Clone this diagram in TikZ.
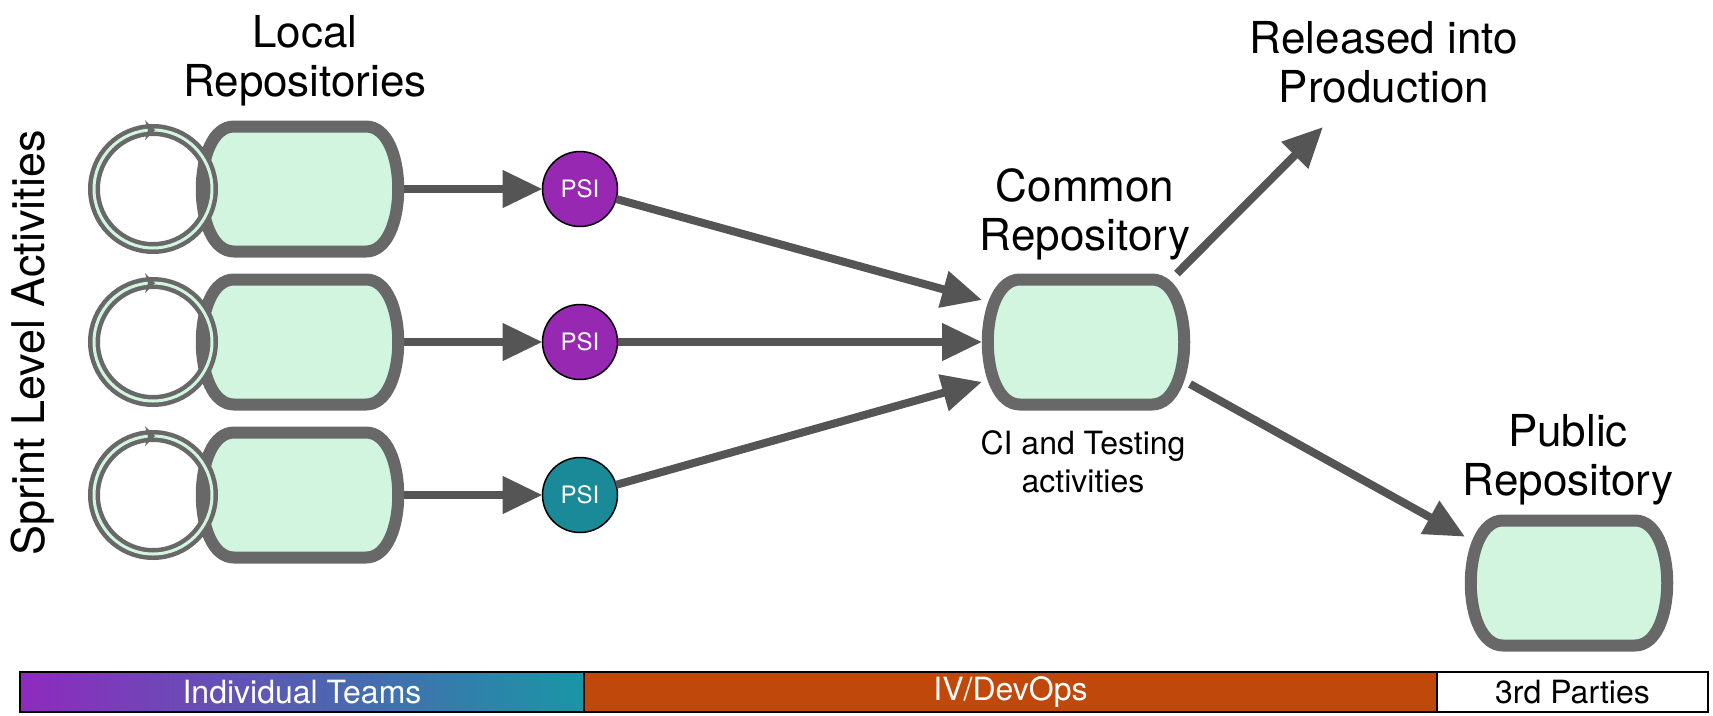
\documentclass[tikz,border=0pt]{standalone}
\usepackage{fontspec}
\setmainfont{TeX Gyre Heros}
\usetikzlibrary{arrows.meta,calc}
\definecolor{boxfill}{RGB}{209,245,222}
\definecolor{boxline}{RGB}{104,104,104}
\definecolor{arrowc}{RGB}{85,85,85}
\definecolor{psipurple}{RGB}{150,40,178}
\definecolor{psiteal}{RGB}{26,138,152}
\definecolor{barpurple}{RGB}{142,42,190}
\definecolor{barteal}{RGB}{25,150,165}
\definecolor{barorange}{RGB}{192,72,10}
\newcommand\reposhape[1]{%
  \filldraw[fill=boxfill,draw=boxline,line width=12pt]
    ($(#1.north west)+(38,6)$) -- ($(#1.north east)+(-38,6)$)
    .. controls ($(#1.north east)+(5,6)$) and ($(#1.south east)+(5,-6)$) .. ($(#1.south east)+(-38,-6)$)
    -- ($(#1.south west)+(38,-6)$)
    .. controls ($(#1.south west)+(-5,-6)$) and ($(#1.north west)+(-5,6)$) .. cycle;}
\newcommand\looptick[1]{%
  \fill[boxline] ($(#1.north)+(-8,-10)$) -- ($(#1.north)+(2,0)$) -- ($(#1.north)+(-8,10)$) -- ($(#1.north)+(-5,0)$) -- cycle;}
\begin{document}
\begin{tikzpicture}[x=1pt,y=-1pt,
  repo/.style={minimum width=208pt,minimum height=137pt,inner sep=0pt,outer sep=0pt},
  loopc/.style={circle,draw=boxline,line width=4.5pt,double=boxfill,double distance=3pt,minimum size=118pt,inner sep=0pt,outer sep=0pt},
  psi/.style={circle,draw=black,line width=1.5pt,minimum size=75pt,inner sep=0pt,outer sep=0pt,text=white,font=\fontsize{24}{24}\selectfont},
  arr/.style={draw=arrowc,line width=8pt,-{Triangle[length=40pt,width=36pt]}},
  title/.style={align=center,font=\fontsize{44}{49}\selectfont,inner sep=0pt,anchor=north},
  small/.style={align=center,font=\fontsize{32}{38}\selectfont,inner sep=0pt,anchor=north},
  bar/.style={draw=black,line width=2pt,minimum height=40pt,inner sep=0pt,font=\fontsize{32}{32}\selectfont}
]
\useasboundingbox (0,0) rectangle (1713,715);

% titles
\node[title] (tlocal) at (305,15) {Local\\Repositories};
\node[title] (tcommon) at (1085,168) {Common\\Repository};
\node[title] (trel) at (1384,21) {Released into\\Production};
\node[title] (tpublic) at (1568,414) {Public\\Repository};
\node[small] (tci) at (1083,430) {CI and Testing\\activities};
\node[rotate=90,font=\fontsize{45}{45}\selectfont,inner sep=0pt] (sprint) at (33,343) {Sprint Level Activities};

% repository nodes (shapes drawn later)
\node[repo] (r1) at (300,189) {};
\node[repo] (r2) at (300,342) {};
\node[repo] (r3) at (300,495) {};
\node[repo] (common) at (1086,342) {};
\node[repo] (public) at (1569,583) {};

% PSI nodes
\node[psi,fill=psipurple] (p1) at (580,189) {PSI};
\node[psi,fill=psipurple] (p2) at (580,342) {PSI};
\node[psi,fill=psiteal] (p3) at (580,495) {PSI};

\coordinate (relend) at (1323,127);

% connectors
\draw[arr] (r1.east) -- (p1.west);
\draw[arr] (r2.east) -- (p2.west);
\draw[arr] (r3.east) -- (p3.west);
\draw[arr] (p1) -- (common.158);
\draw[arr] (p2) -- (common.west);
\draw[arr] (p3) -- (common.201);
\draw[arr] (common.37) -- (relend);
\draw[arr] (common.-22) -- (public.156);

% repository shapes
\reposhape{r1}
\reposhape{r2}
\reposhape{r3}
\reposhape{common}
\reposhape{public}

% loops
\node[loopc] (l1) at (153,189) {};
\node[loopc] (l2) at (153,342) {};
\node[loopc] (l3) at (153,495) {};
\looptick{l1}
\looptick{l2}
\looptick{l3}

% bottom bar
\node[bar,left color=barpurple,right color=barteal,minimum width=564pt,text=white] (teams) at (302,692) {Individual Teams};
\node[bar,fill=barorange,minimum width=853pt,text=white] (devops) at (1010.5,692) {IV/DevOps};
\node[bar,fill=white,minimum width=271pt,text=black] (third) at (1572.5,692) {3rd Parties};
\end{tikzpicture}
\end{document}
